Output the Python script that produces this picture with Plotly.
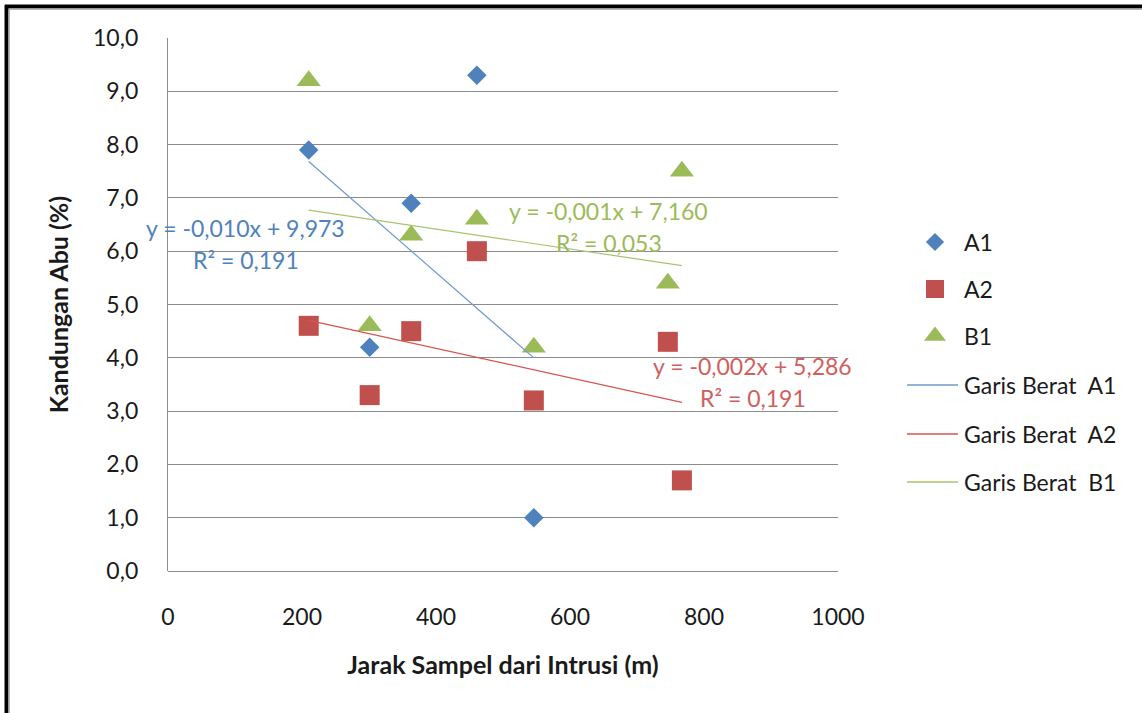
import numpy as np
import plotly.graph_objects as go

# Sample distances from the intrusion (m) and ash content (%)
x_a1 = [210, 301, 363, 461, 546]
y_a1 = [7.9, 4.2, 6.9, 9.3, 1.0]

x_a2 = [210, 301, 363, 461, 546, 746, 767]
y_a2 = [4.6, 3.3, 4.5, 6.0, 3.2, 4.3, 1.7]

x_b1 = [210, 301, 363, 461, 546, 746, 767]
y_b1 = [9.2, 4.6, 6.3, 6.6, 4.2, 5.4, 7.5]

series_names = ["A1", "A2", "B1"]
trend_names = ["Garis Berat  A1", "Garis Berat  A2", "Garis Berat  B1"]
eq_labels = ["y = -0,010x + 9,973", "y = -0,002x + 5,286", "y = -0,001x + 7,160"]
r2_labels = ["R² = 0,191", "R² = 0,191", "R² = 0,053"]

y_ticks = [0, 1, 2, 3, 4, 5, 6, 7, 8, 9, 10]
y_ticktext = ["0,0", "1,0", "2,0", "3,0", "4,0", "5,0", "6,0", "7,0", "8,0", "9,0", "10,0"]
x_ticks = [0, 200, 400, 600, 800, 1000]

BLUE = "#4F81BD"
RED = "#C0504D"
GREEN = "#9BBB59"
TREND_COLORS = ["#6E9BD1", "#D9534F", "#A8C46B"]
TEXT = "#1a1a1a"
FONT = "Lato, 'Open Sans', sans-serif"

W, H = 1142, 713
L, R, T, B = 168, 838, 38, 571   # main plotting area in pixels
PW = W - L                        # width of the paper area (no right margin)
MAIN_FRAC = (R - L) / PW


def px_x(p):
    return (p - L) / PW


def px_y(p):
    return (B - p) / (B - T)


fig = go.Figure()

markers = [
    (x_a1, y_a1, "diamond", BLUE, 15),
    (x_a2, y_a2, "square", RED, 20),
    (x_b1, y_b1, "triangle-up", GREEN, 21),
]
for i, (xs, ys, sym, col, sz) in enumerate(markers):
    fig.add_trace(go.Scatter(
        x=xs, y=ys, mode="markers", name=series_names[i],
        marker=dict(symbol=sym, color=col, size=sz, line=dict(width=0)),
    ))

# Least-squares trend lines spanning each series' x range
for i, (xs, ys, _, _, _) in enumerate(markers):
    slope, icpt = np.polyfit(xs, ys, 1)
    xe = [min(xs), max(xs)]
    fig.add_trace(go.Scatter(
        x=xe, y=[slope * v + icpt for v in xe], mode="lines",
        name=trend_names[i], line=dict(color=TREND_COLORS[i], width=1.2),
    ))

# Trend equation labels
label_pos = [(116, 6.43, 5.83, BLUE), (873, 3.85, 3.25, "#D0605D"), (658, 6.75, 6.15, GREEN)]
for i, (lx, ly1, ly2, col) in enumerate(label_pos):
    for ly, txt in ((ly1, eq_labels[i]), (ly2, r2_labels[i])):
        fig.add_annotation(x=lx, y=ly, text=txt, showarrow=False, xanchor="center",
                           font=dict(family=FONT, size=23, color=col))

# Legend on its own pixel-space axes to the right of the plot
leg_y = [242, 289, 336, 385, 434, 482]
leg_sym_x = 935
leg_text_x = 962
leg_sizes = [14, 18, 19]
for i, (_, _, sym, col, _) in enumerate(markers):
    fig.add_trace(go.Scatter(
        x=[leg_sym_x], y=[leg_y[i]], xaxis="x2", yaxis="y2", mode="markers",
        marker=dict(symbol=sym, color=col, size=leg_sizes[i], line=dict(width=0)),
        hoverinfo="skip",
    ))
for i in range(3):
    fig.add_trace(go.Scatter(
        x=[907, 958], y=[leg_y[3 + i]] * 2, xaxis="x2", yaxis="y2", mode="lines",
        line=dict(color=TREND_COLORS[i], width=1.4), hoverinfo="skip",
    ))
for i, lab in enumerate(series_names + trend_names):
    fig.add_annotation(xref="x2", yref="y2", x=leg_text_x, y=leg_y[i],
                       text=lab, showarrow=False, xanchor="left", yanchor="middle",
                       font=dict(family=FONT, size=23, color=TEXT))

# Outer frame on the top and left edges
shapes = [
    dict(type="line", xref="paper", yref="paper", x0=px_x(5), x1=px_x(W), y0=px_y(6.5), y1=px_y(6.5),
         line=dict(color="black", width=4)),
    dict(type="line", xref="paper", yref="paper", x0=px_x(8), x1=px_x(W), y0=px_y(9), y1=px_y(9),
         line=dict(color="#a0a0a0", width=1.5)),
    dict(type="line", xref="paper", yref="paper", x0=px_x(6.5), x1=px_x(6.5), y0=px_y(5), y1=px_y(H),
         line=dict(color="black", width=4)),
    dict(type="line", xref="paper", yref="paper", x0=px_x(9), x1=px_x(9), y0=px_y(9), y1=px_y(H),
         line=dict(color="#a0a0a0", width=1.5)),
]

fig.update_layout(
    width=W, height=H,
    margin=dict(l=L, r=0, t=T, b=H - B, pad=0, autoexpand=False),
    paper_bgcolor="white", plot_bgcolor="white",
    font=dict(family=FONT, size=22, color=TEXT),
    showlegend=False,
    shapes=shapes,
    xaxis=dict(domain=[0, MAIN_FRAC], range=[0, 1000], tickvals=x_ticks, showgrid=False,
               zeroline=False, showline=False, ticks="", ticklabelstandoff=30,
               tickfont=dict(family=FONT, size=23), automargin=False,
               title=dict(text="<b>Jarak Sampel dari Intrusi (m)</b>", standoff=27,
                          font=dict(family=FONT, size=25))),
    yaxis=dict(range=[0, 10], tickvals=y_ticks, ticktext=y_ticktext, showgrid=True,
               gridcolor="#8c8c8c", gridwidth=1.3, zeroline=True, zerolinecolor="#8c8c8c",
               zerolinewidth=1.3, showline=True, linecolor="#8c8c8c", linewidth=1.3,
               ticks="", ticklabelstandoff=24, tickfont=dict(family=FONT, size=23),
               automargin=False,
               title=dict(text="<b>Kandungan Abu (%)</b>", standoff=17,
                          font=dict(family=FONT, size=25))),
    xaxis2=dict(domain=[MAIN_FRAC, 1], range=[R, W], anchor="y2", visible=False,
                fixedrange=True),
    yaxis2=dict(domain=[0, 1], range=[B, T], anchor="x2", visible=False, fixedrange=True),
)

fig.write_html("out.html")
